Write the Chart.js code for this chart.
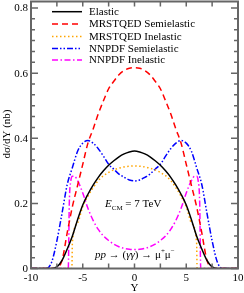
<!DOCTYPE html>
<html>
<head>
<meta charset="utf-8">
<script src="https://cdn.jsdelivr.net/npm/chart.js@4"></script>
<style>
  html, body { margin: 0; padding: 0; background: #fff; }
  #wrap { width: 244px; height: 293px; position: relative; }
</style>
</head>
<body>
<div id="wrap"><canvas id="c"></canvas></div>
<script>
// rapidity grid shared by the smooth curves
var yGrid = [-10, -9, -8.5, -8, -7.5, -7, -6.5, -6, -5.5, -5, -4.5, -4, -3.5, -3, -2.5, -2, -1.5, -1, -0.5,
             0, 0.5, 1, 1.5, 2, 2.5, 3, 3.5, 4, 4.5, 5, 5.5, 6, 6.5, 7, 7.5, 8, 8.5, 9, 10];
var elastic = [0, 0, 0, 0, 0.005, 0.025, 0.06, 0.10, 0.15, 0.195, 0.228, 0.256, 0.28, 0.30, 0.317, 0.331, 0.343, 0.352, 0.358,
               0.361, 0.358, 0.352, 0.343, 0.331, 0.317, 0.30, 0.28, 0.256, 0.228, 0.195, 0.15, 0.10, 0.06, 0.025, 0.005, 0, 0, 0, 0];
var mrstSemi = [0, 0, 0, 0, 0.002, 0.025, 0.11, 0.19, 0.255, 0.32, 0.385, 0.428, 0.475, 0.515, 0.552, 0.575, 0.595, 0.608, 0.615,
                0.617, 0.615, 0.608, 0.595, 0.575, 0.552, 0.515, 0.475, 0.428, 0.385, 0.32, 0.255, 0.19, 0.11, 0.025, 0.002, 0, 0, 0, 0];
var nnpdfSemi = [0, 0, 0, 0.02, 0.085, 0.17, 0.258, 0.31, 0.36, 0.385, 0.393, 0.385, 0.368, 0.345, 0.32, 0.305, 0.29, 0.28, 0.272,
                 0.269, 0.272, 0.28, 0.29, 0.305, 0.32, 0.345, 0.368, 0.385, 0.393, 0.385, 0.36, 0.31, 0.258, 0.17, 0.085, 0.02, 0, 0, 0];

// inelastic curves have sharp edges, own grids
var yMrstInel = [-10, -6.05, -6, -5.5, -5, -4.5, -4, -3.5, -3, -2.5, -2, -1.5, -1, -0.5,
                 0, 0.5, 1, 1.5, 2, 2.5, 3, 3.5, 4, 4.5, 5, 5.5, 6, 6.05, 10];
var mrstInel = [0, 0, 0.08, 0.14, 0.19, 0.222, 0.248, 0.27, 0.285, 0.295, 0.303, 0.308, 0.312, 0.314,
                0.315, 0.314, 0.312, 0.308, 0.303, 0.295, 0.285, 0.27, 0.248, 0.222, 0.19, 0.14, 0.08, 0, 0];
var yNnpdfInel = [-10, -6.4, -6.3, -6.15, -6, -5.8, -5.5, -5, -4.5, -4, -3.5, -3, -2.5, -2, -1.5, -1, -0.5,
                  0, 0.5, 1, 1.5, 2, 2.5, 3, 3.5, 4, 4.5, 5, 5.5, 5.8, 6, 6.15, 6.3, 6.4, 10];
var nnpdfInel = [0, 0, 0.2, 0.27, 0.283, 0.283, 0.27, 0.232, 0.185, 0.148, 0.12, 0.10, 0.086, 0.075, 0.067, 0.062, 0.059,
                 0.058, 0.059, 0.062, 0.067, 0.075, 0.086, 0.10, 0.12, 0.148, 0.185, 0.232, 0.27, 0.283, 0.283, 0.27, 0.2, 0, 0];

var xTicks = [-10, -5, 0, 5, 10];
var yTicks = [0, 0.2, 0.4, 0.6, 0.8];

function pts(xs, ys) {
  return xs.map(function (x, i) { return { x: x, y: ys[i] }; });
}

var serif = '"Liberation Serif", "Times New Roman", serif';

var datasets = [
  { label: 'Elastic', data: pts(yGrid, elastic), borderColor: '#000000', borderDash: [] },
  { label: 'MRSTQED Semielastic', data: pts(yGrid, mrstSemi), borderColor: '#ff0000', borderDash: [6, 4] },
  { label: 'MRSTQED Inelastic', data: pts(yMrstInel, mrstInel), borderColor: '#ffa500', borderDash: [1.5, 2.5] },
  { label: 'NNPDF Semielastic', data: pts(yGrid, nnpdfSemi), borderColor: '#0000ff', borderDash: [6, 2, 1.5, 2, 1.5, 2] },
  { label: 'NNPDF Inelastic', data: pts(yNnpdfInel, nnpdfInel), borderColor: '#ff00ff', borderDash: [6, 2.5, 1.5, 2.5] }
];
datasets.forEach(function (d) {
  d.borderWidth = 1.5;
  d.pointRadius = 0;
  d.fill = false;
  d.cubicInterpolationMode = 'monotone';
});

var decor = {
  id: 'decor',
  afterDraw: function (chart) {
    var ctx = chart.ctx, a = chart.chartArea;
    var xs = chart.scales.x, ys = chart.scales.y;
    ctx.save();
    ctx.strokeStyle = '#666';
    ctx.lineWidth = 1.5;
    // inward ticks
    ctx.beginPath();
    for (var v = -10; v <= 10.001; v += 2.5) {
      var px = xs.getPixelForValue(v);
      ctx.moveTo(px, a.bottom); ctx.lineTo(px, a.bottom - 5);
      ctx.moveTo(px, a.top); ctx.lineTo(px, a.top + 5);
    }
    for (var k = 0; k <= 24; k++) {
      var val = k * 0.2 / 6;
      var py = ys.getPixelForValue(val);
      var len = (k % 6 === 0) ? 7 : 4;
      ctx.moveTo(a.left, py); ctx.lineTo(a.left + len, py);
      ctx.moveTo(a.right, py); ctx.lineTo(a.right - len, py);
    }
    ctx.stroke();
    // frame
    ctx.lineWidth = 2;
    ctx.strokeRect(a.left, a.top, a.right - a.left, a.bottom - a.top);

    // tick labels
    ctx.fillStyle = '#000';
    ctx.font = '11px ' + serif;
    ctx.textBaseline = 'middle';
    ctx.textAlign = 'right';
    yTicks.forEach(function (t) {
      ctx.fillText(t === 0 ? '0' : t.toFixed(1), a.left - 3, ys.getPixelForValue(t) + 0.5);
    });
    ctx.textAlign = 'center';
    xTicks.forEach(function (t) {
      ctx.fillText(String(t), xs.getPixelForValue(t), 278.5);
    });

    // legend
    ctx.textAlign = 'left';
    var rowY = [11.7, 24, 36.5, 48.5, 60];
    chart.data.datasets.forEach(function (d, i) {
      ctx.strokeStyle = d.borderColor;
      ctx.lineWidth = 1.5;
      ctx.setLineDash(d.borderDash);
      ctx.beginPath();
      ctx.moveTo(52, rowY[i]); ctx.lineTo(82, rowY[i]);
      ctx.stroke();
      ctx.setLineDash([]);
      ctx.fillText(d.label, 89, rowY[i] + 0.5);
    });

    // annotations
    ctx.textBaseline = 'alphabetic';
    var x = 105;
    ctx.font = 'italic 11px ' + serif;
    ctx.fillText('E', x, 207); x += ctx.measureText('E').width;
    ctx.font = '7px ' + serif;
    ctx.fillText('CM', x, 210); x += ctx.measureText('CM').width;
    ctx.font = '11px ' + serif;
    ctx.fillText(' = 7 TeV', x, 207);

    x = 95;
    var parts = [
      ['italic 11px ', 'pp', 0], ['11px ', ' \u2192 ', 0], ['11px ', '(', 0], ['italic 11px ', '\u03b3\u03b3', 0],
      ['11px ', ')', 0], ['11px ', ' \u2192 ', 0], ['11px ', '\u03bc', 0], ['7px ', '+', -5],
      ['11px ', '\u03bc', 0], ['7px ', '\u2212', -5]
    ];
    parts.forEach(function (p) {
      ctx.font = p[0] + serif;
      ctx.fillText(p[1], x, 258 + p[2]);
      x += ctx.measureText(p[1]).width;
    });

    // axis titles
    ctx.font = '11px ' + serif;
    ctx.textAlign = 'center';
    ctx.fillText('Y', xs.getPixelForValue(0), 291);
    ctx.translate(10, 134);
    ctx.rotate(-Math.PI / 2);
    ctx.fillText('d\u03c3/dY (nb)', 0, 0);
    ctx.restore();
  }
};

new Chart(document.getElementById('c'), {
  type: 'line',
  data: { datasets: datasets },
  options: {
    responsive: true,
    maintainAspectRatio: false,
    animation: false,
    layout: { padding: { top: 1.5, right: 6, left: 0, bottom: 0 } },
    plugins: { legend: { display: false }, tooltip: { enabled: false } },
    scales: {
      x: {
        type: 'linear', min: -10, max: 10,
        grid: { display: false, drawTicks: false },
        border: { display: false },
        ticks: { display: false },
        afterFit: function (s) { s.height = 24.5; }
      },
      y: {
        type: 'linear', min: 0, max: 0.82,
        grid: { display: false, drawTicks: false },
        border: { display: false },
        ticks: { display: false },
        afterFit: function (s) { s.width = 31; }
      }
    }
  },
  plugins: [decor]
});
</script>
</body>
</html>
